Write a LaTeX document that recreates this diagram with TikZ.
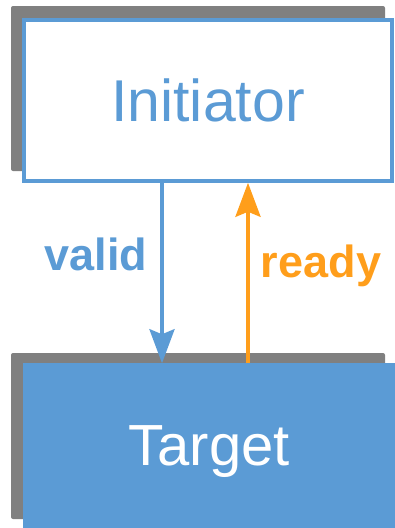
\documentclass[tikz,border=0pt]{standalone}
\usepackage{fontspec}
\setmainfont{Liberation Sans}
\usetikzlibrary{arrows.meta}
\definecolor{cblue}{HTML}{5B9BD5}
\definecolor{corange}{HTML}{FF9E1B}
\definecolor{cgray}{HTML}{808080}
\begin{document}
\begin{tikzpicture}[x=1pt,y=-1pt,
  shadowbox/.style={fill=cgray, rounded corners=2pt},
  block/.style={draw=cblue, line width=3.5pt, minimum width=368pt, minimum height=161pt, inner sep=0pt, text depth=0pt},
  sig/.style={line width=3.8pt, -{Stealth[length=34pt,width=25pt,inset=5pt]}},
  lbl/.style={font=\fontsize{45}{50}\selectfont\bfseries, anchor=base, inner sep=0pt}
]
\useasboundingbox (0,0) rectangle (394,528);
% shadows
\fill[shadowbox] (11,6) rectangle (385,171);
\fill[shadowbox] (11,353) rectangle (385,519);
% blocks
\node[block, fill=white, text=cblue, font=\fontsize{59}{64}\selectfont] (init) at (208,100.5) {Initiator};
\node[block, fill=cblue, text=white, font=\fontsize{58}{64}\selectfont] (target) at (209,445.5) {Target};
% connectors
\draw[sig, cblue] ([xshift=-46pt]init.south) -- ([xshift=-47pt]target.north);
\draw[sig, corange] ([xshift=39pt]target.north) -- ([xshift=40pt]init.south);
% labels
\node[lbl, text=cblue] (lvalid) at (96,270) {valid};
\node[lbl, text=corange] (lready) at (321,277) {ready};
\end{tikzpicture}
\end{document}
